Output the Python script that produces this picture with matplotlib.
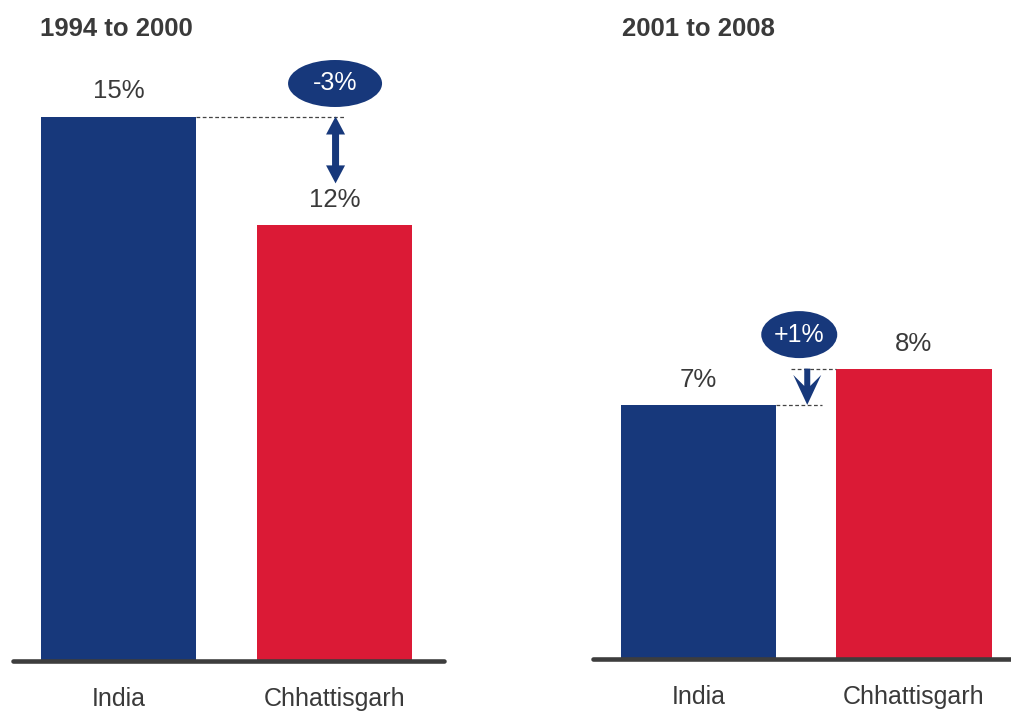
import matplotlib
matplotlib.use("Agg")
import matplotlib.pyplot as plt
from matplotlib.patches import Polygon, Ellipse
from matplotlib.transforms import IdentityTransform

plt.rcParams["font.family"] = ["Liberation Sans", "DejaVu Sans"]

# Data
categories = ["India", "Chhattisgarh"]
period_titles = ["1994 to 2000", "2001 to 2008"]
growth_1994_2000 = [15, 12]
growth_2001_2008 = [7, 8]
change_labels = ["-3%", "+1%"]

BLUE = "#17387b"
RED = "#db1a36"
TEXT = "#3a3a3a"
AXIS = "#3d3d3d"
W, H, DPI = 1012, 711, 100

fig = plt.figure(figsize=(W / DPI, H / DPI), dpi=DPI)
fig.patch.set_facecolor("white")

PX_PER_PCT = 36.3


def make_axes(x0, x1, base_y, xlim):
    ax = fig.add_axes([x0 / W, (H - base_y) / H, (x1 - x0) / W, base_y / H])
    ax.set_xlim(*xlim)
    ax.set_ylim(0, base_y / PX_PER_PCT)
    for s in ax.spines.values():
        s.set_visible(False)
    ax.set_yticks([])
    ax.set_xticks([0, 1])
    ax.set_xticklabels(categories, fontsize=18, color=TEXT)
    ax.tick_params(axis="x", length=0, pad=19)
    ax.patch.set_alpha(0)
    return ax


def to_px(ax, x, y):
    return ax.transData.transform((x, y))


def draw_panel(ax, values, title, title_x):
    bars = ax.bar([0, 1], values, width=0.72, color=[BLUE, RED], zorder=2)
    for b, v in zip(bars, values):
        ax.annotate(f"{v}%", (b.get_x() + b.get_width() / 2, v),
                    xytext=(0, 18), textcoords="offset points",
                    ha="center", va="center", fontsize=18.5, color=TEXT)
    xl = ax.get_xlim()
    ax.plot([xl[0] + 0.012, xl[1]], [0, 0], color=AXIS, lw=3.3,
            solid_capstyle="round", clip_on=False, zorder=3)
    fig.text(title_x / W, 1 - 29.5 / H, title, fontsize=18.5, fontweight="bold",
             color=TEXT, ha="left", va="center")
    return bars


def ellipse_badge(cx, cy, w, h, label):
    e = Ellipse((cx, cy), w, h, transform=IdentityTransform(),
                facecolor=BLUE, edgecolor="none", zorder=5)
    fig.patches.append(e)
    fig.text(cx / W, cy / H, label, fontsize=18, color="white",
             ha="center", va="center", zorder=6)


def dashed(x0, x1, y):
    fig.lines.append(plt.Line2D([x0 / W, x1 / W], [y / H, y / H],
                                transform=fig.transFigure, color="#444444",
                                lw=0.9, ls=(0, (3, 2))))


# Left panel
axL = make_axes(10, 444, 661, (-0.502, 1.507))
barsL = draw_panel(axL, growth_1994_2000, period_titles[0], 40)

# Right panel
axR = make_axes(590, 1012, 659, (-0.503, 1.455))
barsR = draw_panel(axR, growth_2001_2008, period_titles[1], 622)

fig.canvas.draw()

# Left annotation: double-headed arrow between the two levels
ax_, ay_top = to_px(axL, 1.005, growth_1994_2000[0])
_, ay_low = to_px(axL, 1.0, growth_1994_2000[1])
ay_bot = ay_low + 42
india_right, _ = to_px(axL, 0.36, 0)
dashed(india_right, ax_ + 10, ay_top)
sw, hw, hl = 3.5, 9.5, 18
pts = [
    (ax_, ay_top), (ax_ + hw, ay_top - hl), (ax_ + sw, ay_top - hl),
    (ax_ + sw, ay_bot + hl), (ax_ + hw, ay_bot + hl), (ax_, ay_bot),
    (ax_ - hw, ay_bot + hl), (ax_ - sw, ay_bot + hl), (ax_ - sw, ay_top - hl),
    (ax_ - hw, ay_top - hl),
]
fig.patches.append(Polygon(pts, closed=True, transform=IdentityTransform(),
                           facecolor=BLUE, edgecolor="none", zorder=5))
ellipse_badge(ax_ - 0.5, ay_top + 33, 94, 47, change_labels[0])

# Right annotation: downward arrow from the higher to the lower level
rx, ry_top = to_px(axR, 0.505, growth_2001_2008[1])
_, ry_bot = to_px(axR, 0.5, growth_2001_2008[0])
chh_left, _ = to_px(axR, 0.64, 0)
india_r, _ = to_px(axR, 0.36, 0)
dashed(rx - 16, chh_left, ry_top)
dashed(india_r, rx + 15, ry_bot)
sw, hw, hl, notch = 3, 14, 30, 11
pts = [
    (rx - sw, ry_top), (rx - sw, ry_bot + hl - notch), (rx - hw, ry_bot + hl),
    (rx, ry_bot), (rx + hw, ry_bot + hl), (rx + sw, ry_bot + hl - notch),
    (rx + sw, ry_top),
]
fig.patches.append(Polygon(pts, closed=True, transform=IdentityTransform(),
                           facecolor=BLUE, edgecolor="none", zorder=5))
ellipse_badge(rx - 8, ry_top + 34, 76, 47, change_labels[1])

fig.savefig("out.png", dpi=DPI, facecolor="white")
